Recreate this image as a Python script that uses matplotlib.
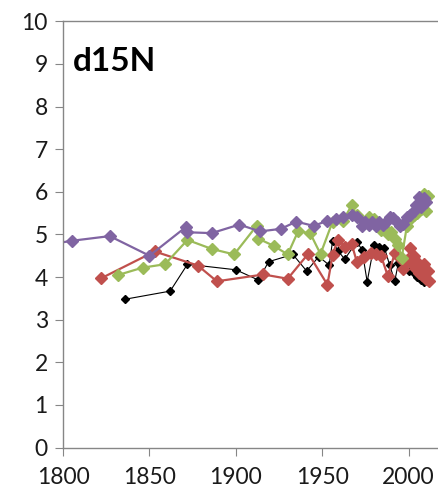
import matplotlib
matplotlib.use("Agg")
import matplotlib.pyplot as plt

# purple series
yr_purple = [1790, 1805, 1827, 1850, 1871, 1872, 1886, 1902, 1914, 1926, 1935, 1945,
             1953, 1958, 1962, 1967, 1970, 1973, 1975, 1977, 1979, 1981, 1983, 1985,
             1987, 1989, 1991, 1993, 1995, 1997, 1999, 2001, 2003, 2004, 2006, 2007,
             2009, 2010]
v_purple = [4.75, 4.85, 4.96, 4.50, 5.17, 5.05, 5.03, 5.23, 5.07, 5.13, 5.30, 5.20,
            5.32, 5.35, 5.40, 5.45, 5.40, 5.20, 5.30, 5.22, 5.28, 5.20, 5.30, 5.22,
            5.28, 5.40, 5.38, 5.30, 5.20, 5.25, 5.40, 5.45, 5.55, 5.70, 5.88, 5.65,
            5.85, 5.75]

# green series
yr_green = [1832, 1846, 1859, 1872, 1886, 1899, 1912, 1913, 1922, 1930, 1936, 1943,
            1949, 1956, 1962, 1967, 1970, 1974, 1977, 1980, 1982, 1984, 1986, 1988,
            1990, 1992, 1994, 1996, 1999, 2001, 2003, 2005, 2007, 2009, 2010, 2011]
v_green = [4.05, 4.22, 4.30, 4.87, 4.66, 4.53, 5.20, 4.90, 4.73, 4.53, 5.07, 5.03,
           4.54, 5.30, 5.32, 5.68, 5.45, 5.30, 5.40, 5.35, 5.25, 5.10, 5.15, 5.00,
           5.05, 4.90, 4.75, 4.45, 5.20, 5.35, 5.45, 5.50, 5.60, 5.95, 5.55, 5.90]

# red series
yr_red = [1822, 1853, 1878, 1889, 1916, 1930, 1942, 1953, 1956, 1959, 1963, 1967,
          1970, 1974, 1978, 1981, 1984, 1988, 1992, 1995, 1997, 1999, 2001, 2002,
          2003, 2004, 2005, 2006, 2007, 2008, 2009, 2010, 2011, 2012]
v_red = [3.97, 4.60, 4.27, 3.90, 4.06, 3.96, 4.55, 3.82, 4.52, 4.88, 4.71, 4.78,
         4.36, 4.48, 4.56, 4.55, 4.50, 4.02, 4.56, 4.45, 4.20, 4.40, 4.68, 4.30,
         4.50, 4.20, 4.35, 4.10, 4.25, 4.05, 4.30, 3.95, 4.15, 3.90]

# black series
yr_black = [1836, 1862, 1872, 1900, 1913, 1919, 1933, 1941, 1948, 1954, 1956, 1959,
            1963, 1970, 1973, 1976, 1980, 1983, 1986, 1989, 1992, 1994, 1997, 2000,
            2003, 2005, 2007, 2009]
v_black = [3.48, 3.67, 4.30, 4.17, 3.93, 4.36, 4.53, 4.14, 4.48, 4.28, 4.85, 4.62,
           4.42, 4.83, 4.64, 3.89, 4.75, 4.70, 4.69, 4.28, 3.91, 4.32, 4.20, 4.13,
           4.09, 4.00, 3.93, 3.89]

plt.rcParams['font.family'] = ['Lato', 'DejaVu Sans']

fig = plt.figure(figsize=(4.38, 4.94), dpi=100)
ax = fig.add_axes([0.144, 0.094, 0.856, 0.863])

ax.plot(yr_black, v_black, color='black', lw=0.8, marker='D', ms=4.5, mec='black')
ax.plot(yr_red, v_red, color='#C0504D', lw=1.6, marker='D', ms=6.5, mec='#C0504D')
ax.plot(yr_green, v_green, color='#9BBB59', lw=1.6, marker='D', ms=6.5, mec='#9BBB59')
ax.plot(yr_purple, v_purple, color='#8064A2', lw=1.6, marker='D', ms=6.5, mec='#8064A2')

ax.set_xlim(1800, 2017)
ax.set_ylim(0, 10)
ax.set_xticks([1800, 1850, 1900, 1950, 2000])
ax.set_yticks(range(0, 11))

for s in ['left', 'bottom', 'top']:
    ax.spines[s].set_color('#868686')
    ax.spines[s].set_linewidth(1)
ax.spines['right'].set_visible(False)
ax.tick_params(direction='out', length=6, color='#868686', labelsize=16.5,
               labelcolor='#1a1a1a', pad=5)
ax.tick_params(axis='x', pad=8)

ax.text(0.027, 0.94, 'd15N', transform=ax.transAxes, fontsize=24,
        fontweight='bold', va='top', ha='left')

plt.savefig('out.png', dpi=100)
